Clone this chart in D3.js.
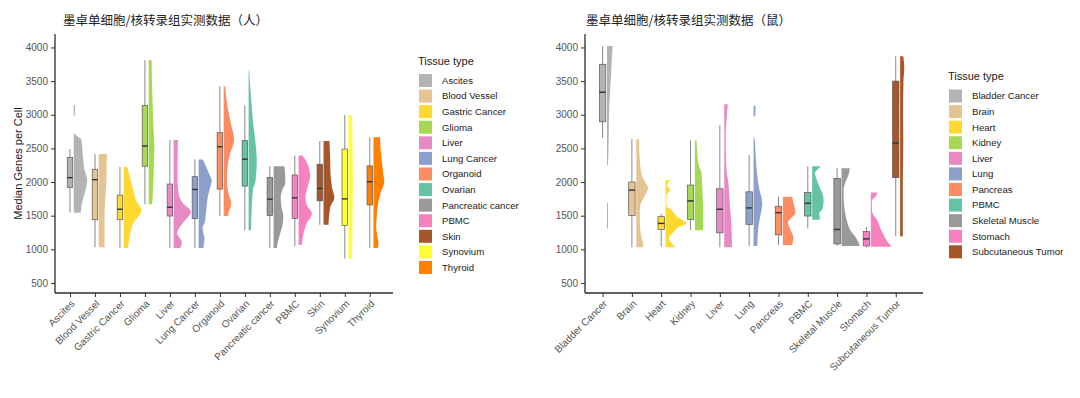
<!DOCTYPE html>
<html>
<head>
<meta charset="utf-8">
<script src="https://cdn.jsdelivr.net/npm/d3@7"></script>
<style>
  html, body { margin: 0; padding: 0; background: #ffffff; }
  svg { display: block; }
</style>
</head>
<body>
<div id="chart"></div>
<script>
// ---------------- DATA ----------------
const yTicks = [500, 1000, 1500, 2000, 2500, 3000, 3500, 4000];

const humanTissues = ["Ascites", "Blood Vessel", "Gastric Cancer", "Glioma", "Liver", "Lung Cancer",
  "Organoid", "Ovarian", "Pancreatic cancer", "PBMC", "Skin", "Synovium", "Thyroid"];

// [lower whisker, Q1, median, Q3, upper whisker]
const humanBoxStats = [
  [1545, 1920, 2065, 2365, 2490],
  [1030, 1440, 2035, 2190, 2415],
  [1020, 1445, 1595, 1805, 2225],
  [1670, 2235, 2535, 3140, 3810],
  [1020, 1495, 1625, 1970, 2625],
  [1020, 1455, 1890, 2080, 2335],
  [1495, 1895, 2525, 2735, 3420],
  [1285, 1940, 2340, 2615, 3140],
  [1020, 1505, 1745, 2070, 2235],
  [1050, 1460, 1765, 2105, 2395],
  [1365, 1720, 1905, 2265, 2610],
  [865, 1355, 1750, 2490, 2995],
  [1020, 1660, 2005, 2240, 2665]
];

// half-violin profiles: [genes, relative density]
const humanViolins = [
  [[3145,0.08],[3000,0.07],[2975,0],[2730,0],[2700,0.12],[2625,0.43],[2375,0.52],[2185,0.6],[2030,0.76],[1885,0.67],[1780,0.56],[1635,0.43],[1545,0.4]],
  [[2415,0.46],[2200,0.45],[2000,0.43],[1800,0.38],[1500,0.33],[1200,0.33],[1030,0.33]],
  [[2225,0.2],[2030,0.39],[1905,0.52],[1725,0.7],[1585,1.0],[1375,0.52],[1185,0.33],[1095,0.28],[1020,0.24]],
  [[3810,0.17],[3550,0.18],[3185,0.22],[2870,0.26],[2525,0.32],[2130,0.28],[1880,0.24],[1670,0.2]],
  [[2625,0.24],[2285,0.22],[2035,0.22],[1835,0.28],[1685,0.52],[1560,0.97],[1405,0.56],[1285,0.25],[1240,0.19],[1185,0.3],[1115,0.46],[1035,0.4],[1020,0.35]],
  [[2335,0.24],[2225,0.43],[2085,0.65],[2025,0.74],[1885,0.62],[1785,0.52],[1635,0.45],[1505,0.4],[1385,0.33],[1335,0.22],[1235,0.26],[1165,0.33],[1085,0.3],[1020,0.27]],
  [[3420,0.09],[3120,0.22],[2870,0.41],[2625,0.59],[2425,0.37],[2225,0.22],[2030,0.18],[1830,0.28],[1685,0.43],[1535,0.28],[1495,0.26]],
  [[3660,0.03],[3385,0.1],[3110,0.18],[2870,0.26],[2625,0.37],[2325,0.46],[2030,0.4],[1880,0.24],[1635,0.18],[1285,0.13]],
  [[2235,0.6],[2085,0.66],[1985,0.66],[1885,0.5],[1765,0.4],[1635,0.44],[1485,0.55],[1385,0.52],[1215,0.35],[1085,0.22],[1020,0.18]],
  [[2395,0.2],[2295,0.46],[2085,0.65],[1920,0.5],[1765,0.39],[1635,0.5],[1535,0.75],[1375,0.44],[1215,0.26],[1065,0.18]],
  [[2610,0.33],[2375,0.37],[2135,0.39],[1920,0.48],[1765,0.61],[1635,0.39],[1535,0.33],[1385,0.28],[1365,0.28]],
  [[2995,0.2],[2490,0.22],[1985,0.24],[1485,0.22],[985,0.2],[865,0.18]],
  [[2665,0.37],[2485,0.4],[2285,0.48],[2085,0.57],[2005,0.61],[1835,0.39],[1685,0.26],[1485,0.18],[1335,0.15],[1185,0.22],[1085,0.28],[1020,0.24]]
];

const mouseTissues = ["Bladder Cancer", "Brain", "Heart", "Kidney", "Liver", "Lung", "Pancreas",
  "PBMC", "Skeletal Muscle", "Stomach", "Subcutaneous Tumor"];

const mouseBoxStats = [
  [2655, 2895, 3335, 3750, 4020],
  [1030, 1505, 1880, 2000, 2635],
  [1040, 1295, 1385, 1485, 1525],
  [1285, 1445, 1720, 1955, 2620],
  [1030, 1245, 1595, 1900, 2845],
  [1050, 1370, 1615, 1855, 2400],
  [1065, 1215, 1545, 1640, 1780],
  [1310, 1495, 1685, 1845, 2235],
  [1050, 1080, 1295, 2055, 2205],
  [1030, 1050, 1155, 1265, 1330],
  [1195, 2065, 2580, 3500, 3870]
];

const mouseViolins = [
  [[4020,0.27],[3750,0.22],[3615,0.2],[3135,0.11],[2615,0.08],[2265,0.05],[2235,0],[1700,0],[1685,0.05],[1310,0.05]],
  [[2635,0.13],[2375,0.16],[2130,0.24],[1985,0.45],[1915,0.57],[1785,0.39],[1635,0.18],[1485,0.17],[1335,0.18],[1185,0.24],[1090,0.33],[1030,0.32]],
  [[2030,0.24],[1950,0.06],[1880,0.23],[1810,0.05],[1740,0.04],[1640,0.05],[1585,0.28],[1485,0.55],[1390,1.0],[1315,0.55],[1235,0.33],[1185,0.17],[1125,0.2],[1075,0.35],[1030,0.45]],
  [[2620,0.08],[2475,0.1],[2230,0.2],[2130,0.32],[1930,0.35],[1730,0.38],[1535,0.4],[1410,0.4],[1285,0.39]],
  [[3155,0.17],[3000,0.13],[2850,0.1],[2730,0.07],[2400,0.08],[2150,0.12],[1990,0.2],[1790,0.24],[1590,0.29],[1390,0.34],[1190,0.36],[1030,0.38]],
  [[3135,0.1],[2990,0.08],[2960,0],[2680,0],[2640,0.05],[2400,0.1],[2140,0.16],[1900,0.27],[1690,0.42],[1550,0.36],[1350,0.24],[1150,0.19],[1050,0.18]],
  [[1780,0.45],[1700,0.5],[1600,0.58],[1540,0.6],[1450,0.35],[1400,0.24],[1350,0.28],[1250,0.42],[1180,0.5],[1065,0.45]],
  [[2235,0.42],[2200,0.3],[2130,0.13],[2060,0.19],[1910,0.37],[1790,0.53],[1710,0.55],[1590,0.48],[1540,0.33],[1480,0.37],[1440,0.35]],
  [[2205,0.4],[2110,0.34],[2000,0.19],[1870,0.1],[1720,0.11],[1575,0.16],[1425,0.26],[1280,0.43],[1180,0.68],[1100,0.82],[1050,0.87]],
  [[1845,0.32],[1790,0.24],[1720,0.05],[1600,0.05],[1525,0.1],[1425,0.32],[1300,0.48],[1200,0.64],[1130,0.76],[1040,1.0]],
  [[3870,0.15],[3700,0.2],[3500,0.16],[3000,0.14],[2600,0.15],[2000,0.13],[1500,0.13],[1195,0.13]]
];

const humanTitle = "墨卓单细胞/核转录组实测数据（人）";
const mouseTitle = "墨卓单细胞/核转录组实测数据（鼠）";
const yAxisTitle = "Median Genes per Cell";
const legendTitle = "Tissue type";

// ---------------- STYLE ----------------
const palette = ["#B3B3B3", "#E5C494", "#FFD92F", "#A6D854", "#E78AC3", "#8DA0CB", "#FC8D62",
  "#66C2A5", "#999999", "#F781BF", "#A65628", "#FFFF33", "#FF7F00"];
const FONT = "'Liberation Sans', Arial, Helvetica, sans-serif";
const CJK = "'Noto Sans CJK SC', 'Noto Sans', sans-serif";

const W = 1080, H = 398;
const plotTop = 34, plotBottom = 293;

const svg = d3.select("#chart").append("svg")
  .attr("width", W).attr("height", H)
  .attr("viewBox", `0 0 ${W} ${H}`);
svg.append("rect").attr("width", W).attr("height", H).attr("fill", "#ffffff");

const y = d3.scaleLinear().domain([351, 4200]).range([plotBottom, plotTop]);

const panels = [
  { title: humanTitle, tissues: humanTissues, stats: humanBoxStats, violins: humanViolins,
    x0: 55, x1: 393, titleX: 63, yTitle: true, legendX: 419, legendTitleY: 64.5, legendKeyTop: 74 },
  { title: mouseTitle, tissues: mouseTissues, stats: mouseBoxStats, violins: mouseViolins,
    x0: 585, x1: 923, titleX: 586, yTitle: false, legendX: 949, legendTitleY: 80, legendKeyTop: 89.5 }
];

panels.forEach(p => {
  const n = p.tissues.length;
  const step = (p.x1 - p.x0) / (n + 0.53);
  const x = d3.scalePoint().domain(p.tissues)
    .range([p.x0 + 0.6 * step, p.x0 + (0.6 + n - 1) * step]);
  const wScale = d3.scaleLinear().domain([0, 1]).range([0, 0.71 * step]);
  const boxW = 0.22 * step;
  const vOff = 0.15 * step;
  const color = d3.scaleOrdinal().domain(p.tissues).range(palette);

  const g = svg.append("g");

  // title
  g.append("text").attr("x", p.titleX).attr("y", 25)
    .attr("font-family", CJK).attr("font-size", 12.5).attr("fill", "#222")
    .text(p.title);

  // violins
  const area = d3.area()
    .curve(d3.curveMonotoneY)
    .y(d => y(d[0]));
  p.tissues.forEach((t, i) => {
    const vx = x(t) + vOff;
    area.x0(() => vx).x1(d => vx + wScale(d[1]));
    g.append("path").attr("d", area(p.violins[i]))
      .attr("fill", color(t)).attr("stroke", "none");
  });

  // whiskers + boxes
  p.tissues.forEach((t, i) => {
    const [lo, q1, med, q3, hi] = p.stats[i];
    const cx = x(t);
    g.append("line").attr("x1", cx).attr("x2", cx).attr("y1", y(lo)).attr("y2", y(hi))
      .attr("stroke", "#7a7a7a").attr("stroke-width", 0.9);
    g.append("rect").attr("x", cx - boxW / 2).attr("width", boxW)
      .attr("y", y(q3)).attr("height", y(q1) - y(q3))
      .attr("fill", color(t)).attr("stroke", "#5a5a5a").attr("stroke-width", 0.7);
    g.append("line").attr("x1", cx - boxW / 2).attr("x2", cx + boxW / 2)
      .attr("y1", y(med)).attr("y2", y(med))
      .attr("stroke", "#333").attr("stroke-width", 1.4);
  });

  // y axis
  const yAx = g.append("g").attr("transform", `translate(${p.x0},0)`)
    .call(d3.axisLeft(y).tickValues(yTicks).tickFormat(d3.format("d"))
      .tickSize(4).tickSizeOuter(0).tickPadding(3));
  yAx.select(".domain").remove();
  yAx.selectAll(".tick line").attr("stroke", "#333").attr("stroke-width", 1);
  yAx.selectAll(".tick text").attr("font-family", FONT).attr("font-size", 10).attr("fill", "#555");

  // x axis
  const xAx = g.append("g").attr("transform", `translate(0,${plotBottom})`)
    .call(d3.axisBottom(x).tickSize(4).tickSizeOuter(0));
  xAx.select(".domain").remove();
  xAx.selectAll(".tick line").attr("stroke", "#333").attr("stroke-width", 1);
  xAx.selectAll(".tick text").remove();
  g.append("line").attr("x1", p.x0).attr("x2", p.x1).attr("y1", plotBottom).attr("y2", plotBottom)
    .attr("stroke", "#2b2b2b").attr("stroke-width", 1.3);
  g.append("line").attr("x1", p.x0).attr("x2", p.x0).attr("y1", plotTop).attr("y2", plotBottom)
    .attr("stroke", "#2b2b2b").attr("stroke-width", 1.3);

  g.selectAll("text.xlab").data(p.tissues).enter().append("text")
    .attr("class", "xlab")
    .attr("transform", d => `translate(${x(d)},299) rotate(-45)`)
    .attr("text-anchor", "end").attr("dy", "0.75em")
    .attr("font-family", FONT).attr("font-size", 10).attr("fill", "#555")
    .text(d => d);

  if (p.yTitle) {
    g.append("text")
      .attr("transform", `translate(18,${(plotTop + plotBottom) / 2}) rotate(-90)`)
      .attr("text-anchor", "middle").attr("dominant-baseline", "central")
      .attr("font-family", FONT).attr("font-size", 11).attr("fill", "#1a1a1a")
      .text(yAxisTitle);
  }

  // legend
  const lg = g.append("g");
  lg.append("text").attr("x", p.legendX - 1).attr("y", p.legendTitleY)
    .attr("font-family", FONT).attr("font-size", 11).attr("fill", "#1a1a1a")
    .text(legendTitle);
  const keyStep = 15.58;
  p.tissues.forEach((t, i) => {
    const ky = p.legendKeyTop + i * keyStep;
    lg.append("rect").attr("x", p.legendX).attr("y", ky).attr("width", 13).attr("height", 13)
      .attr("fill", color(t));
    lg.append("text").attr("x", p.legendX + 23).attr("y", ky + 6.5).attr("dy", "0.35em")
      .attr("font-family", FONT).attr("font-size", 9.6).attr("fill", "#1a1a1a")
      .text(t);
  });
});
</script>
</body>
</html>
